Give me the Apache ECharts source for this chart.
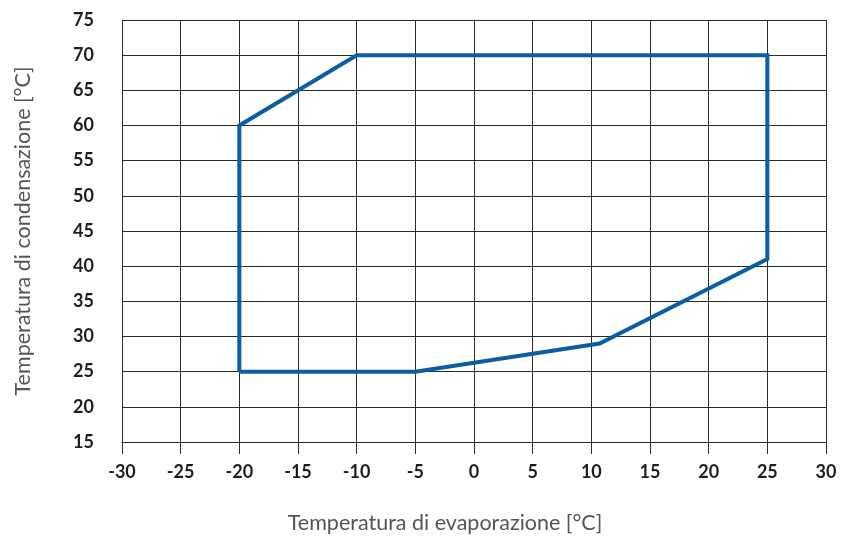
<!DOCTYPE html>
<html>
<head>
<meta charset="utf-8">
<script src="https://cdn.jsdelivr.net/npm/echarts@6/dist/echarts.min.js"></script>
<style>
  html, body { margin: 0; padding: 0; background: #ffffff; }
  #chart { width: 843px; height: 542px; }
</style>
</head>
<body>
<div id="chart"></div>
<script>
// Operating envelope: evaporation temperature vs condensation temperature (°C)
const evaporationTemps = [-20, -20, -10, 25, 25, 10.7, -5, -20];
const condensationTemps = [25, 60, 70, 70, 41, 29, 25, 25];

const xAxisTitle = 'Temperatura di evaporazione [°C]';
const yAxisTitle = 'Temperatura di condensazione [°C]';

const gridColor = '#2b2b2b';
const lineColor = '#0b5ea2';

const points = evaporationTemps.map((x, i) => [x, condensationTemps[i]]);

const chart = echarts.init(document.getElementById('chart'), null, { renderer: 'canvas' });

chart.setOption({
  animation: false,
  backgroundColor: '#ffffff',
  grid: { left: 122, right: 17, top: 20, bottom: 100 },
  xAxis: {
    type: 'value',
    min: -30,
    max: 30,
    interval: 5,
    name: xAxisTitle,
    nameLocation: 'middle',
    nameGap: 70,
    nameTextStyle: {
      fontFamily: 'Lato',
      fontSize: 21.5,
      color: '#555555',
      padding: [0, 58, 0, 0]
    },
    axisLine: { show: true, lineStyle: { color: gridColor, width: 1 } },
    axisTick: { show: true, length: 12, lineStyle: { color: gridColor, width: 1 } },
    splitLine: { show: true, lineStyle: { color: gridColor, width: 1 } },
    axisLabel: {
      margin: 21,
      fontFamily: 'Lato',
      fontWeight: 'bold',
      fontSize: 18,
      color: '#1e1e1e'
    }
  },
  yAxis: {
    type: 'value',
    min: 15,
    max: 75,
    interval: 5,
    name: yAxisTitle,
    nameLocation: 'middle',
    nameGap: 88,
    nameTextStyle: {
      fontFamily: 'Lato',
      fontSize: 21.5,
      color: '#555555'
    },
    axisLine: { show: true, lineStyle: { color: gridColor, width: 1 } },
    axisTick: { show: true, length: 17, lineStyle: { color: gridColor, width: 1 } },
    splitLine: { show: true, lineStyle: { color: gridColor, width: 1 } },
    axisLabel: {
      margin: 28,
      fontFamily: 'Lato',
      fontWeight: 'bold',
      fontSize: 18,
      color: '#1e1e1e'
    }
  },
  series: [{
    type: 'line',
    data: points,
    showSymbol: false,
    symbol: 'none',
    lineStyle: { color: lineColor, width: 4, join: 'miter' },
    z: 5
  }]
});
</script>
</body>
</html>
